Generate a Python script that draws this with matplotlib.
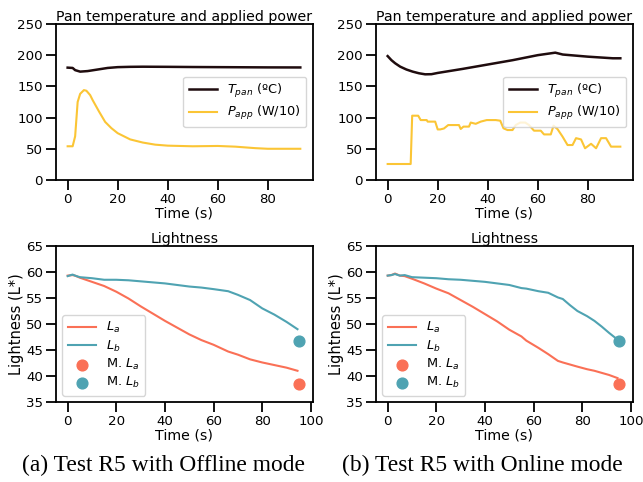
import numpy as np
import matplotlib.pyplot as plt

# Offline mode - pan temperature and applied power
t_pan_off = [0, 2, 3, 5, 8, 12, 16, 20, 25, 30, 40, 50, 60, 70, 80, 93]
T_pan_off = [180, 179.5, 176, 173.6, 174.5, 177, 179.5, 180.8, 181.3, 181.5, 181.3, 181, 180.8, 180.6, 180.4, 180.3]
t_pow_off = [0, 2, 3, 4, 5, 6.5, 7.5, 9, 10, 12.5, 15, 17.5, 20, 25, 30, 35, 40, 50, 60, 67, 75, 80, 93]
P_app_off = [54, 54, 70, 125, 138, 144, 143, 136, 128, 110, 93, 83, 75, 65, 60, 56.6, 55, 54, 54.5, 53.4, 51, 50, 50]

# Online mode - pan temperature and applied power
t_pan_on = [0, 1.5, 3, 5, 7.5, 10, 12.5, 15, 17.5, 20, 30, 40, 50, 60, 67, 70, 80, 90, 93]
T_pan_on = [198.5, 192, 187, 181.6, 177, 173.6, 171, 169.3, 169.5, 171.5, 178, 185, 192, 200, 204, 201, 197.6, 195, 195]
t_pow_on = [0, 9.2, 9.8, 12.2, 13.2, 15.6, 16, 19, 20, 21, 22.5, 24.2, 28.5, 29.2, 30.3, 32.5, 33.2, 35.2,
            37.2, 39.6, 43.2, 45, 46.3, 47.9, 49.9, 51.2, 53, 55, 56.5, 58.5, 61.2, 62.5, 65.2, 66.3, 67.9,
            69.9, 71.9, 73.9, 75.3, 77.3, 78.9, 81.3, 83.3, 85.3, 87.3, 89.3, 93]
P_app_on = [25.6, 25.6, 103, 103, 96, 96, 93.5, 93.5, 81, 81, 82.5, 88, 88, 81.7, 85.5, 85.5, 92, 90,
            93.5, 96, 96, 95, 82.8, 80, 80, 88, 92, 92, 88, 79, 79, 73, 73, 87, 81.5,
            69.5, 56, 56, 67, 65, 50.8, 58, 50.8, 67, 67, 53.4, 53.4]

# Offline mode - lightness
t_L_off = [0, 2, 3, 5, 10, 15, 20, 25, 30, 35, 40, 45, 50, 55, 60, 66, 70, 75, 80, 85, 90, 94.5]
La_off = [59.3, 59.4, 59.3, 58.9, 58.1, 57.3, 56.2, 54.9, 53.4, 52.0, 50.6, 49.3, 48.0, 46.9, 46.0, 44.7, 44.1, 43.2, 42.6, 42.1, 41.6, 41.0]
Lb_off = [59.2, 59.5, 59.3, 59.0, 58.8, 58.5, 58.5, 58.4, 58.2, 58.0, 57.8, 57.5, 57.2, 57.0, 56.7, 56.3, 55.6, 54.6, 53.0, 51.8, 50.4, 49.0]

# Online mode - lightness
t_L_on = [0, 1.5, 3, 5, 7, 10, 15, 20, 25, 30, 35, 40, 45, 50, 55, 57, 62, 66, 70, 72, 75, 78, 82, 85, 88, 91, 94.5]
La_on = [59.3, 59.4, 59.7, 59.3, 59.2, 58.7, 57.8, 56.8, 55.9, 54.6, 53.3, 51.9, 50.5, 48.9, 47.6, 46.8, 45.4, 44.2, 42.9, 42.6, 42.2, 41.8, 41.3, 41.0, 40.6, 40.2, 39.6]
Lb_on = [59.3, 59.4, 59.6, 59.3, 59.4, 59.0, 58.9, 58.8, 58.6, 58.5, 58.3, 58.1, 57.8, 57.5, 56.9, 56.8, 56.3, 56.0, 55.1, 54.8, 53.6, 52.5, 51.5, 50.6, 49.5, 48.3, 47.0]

meas_t = 95
meas_La = [38.4, 38.4]
meas_Lb = [46.8, 46.8]

captions = ['(a) Test R5 with Offline mode', '(b) Test R5 with Online mode']

c_pan = '#1f0c0e'
c_pow = '#fbc535'
c_La = '#fa7056'
c_Lb = '#4fa3b2'

fs = 10.2
plt.rcParams['font.family'] = 'DejaVu Sans'
plt.rcParams['font.size'] = fs
plt.rcParams['axes.linewidth'] = 1.3
for ax_name in ['xtick', 'ytick']:
    plt.rcParams[ax_name + '.major.size'] = 7
    plt.rcParams[ax_name + '.major.width'] = 1.3
    plt.rcParams[ax_name + '.labelsize'] = 9.6
    plt.rcParams[ax_name + '.major.pad'] = 2.5

fig = plt.figure(figsize=(6.43, 4.82), dpi=100)
lefts = [0.0871, 0.5848]
cap_x = [0.2535, 0.7496]
w = 0.399
h = 0.3237

top_data = [(t_pan_off, T_pan_off, t_pow_off, P_app_off), (t_pan_on, T_pan_on, t_pow_on, P_app_on)]
bot_data = [(t_L_off, La_off, Lb_off), (t_L_on, La_on, Lb_on)]

for i in range(2):
    ax = fig.add_axes([lefts[i], 0.6266, w, h])
    tp, Tp, tw, Pw = top_data[i]
    ax.plot(tp, Tp, color=c_pan, lw=1.8, label='$T_{pan}$ (ºC)')
    ax.plot(tw, Pw, color=c_pow, lw=1.5, label='$P_{app}$ (W/10)')
    ax.set_xlim(-4.65, 97.9)
    ax.set_ylim(0, 250)
    ax.set_xticks([0, 20, 40, 60, 80])
    ax.set_title('Pan temperature and applied power', fontsize=fs, pad=2)
    ax.set_xlabel('Time (s)', fontsize=fs, labelpad=0)
    ax.legend(loc='center right', fontsize=9.3, handlelength=2.2, labelspacing=0.35)

    ax2 = fig.add_axes([lefts[i], 0.166, w, h])
    tl, La, Lb = bot_data[i]
    ax2.plot(tl, La, color=c_La, lw=1.5, label='$L_a$')
    ax2.plot(tl, Lb, color=c_Lb, lw=1.5, label='$L_b$')
    ax2.scatter([meas_t], [meas_La[i]], s=60, color=c_La, label='M. $L_a$', zorder=3)
    ax2.scatter([meas_t], [meas_Lb[i]], s=60, color=c_Lb, label='M. $L_b$', zorder=3)
    ax2.set_xlim(-4.8, 100.7)
    ax2.set_ylim(35, 65)
    ax2.set_yticks([35, 40, 45, 50, 55, 60, 65])
    ax2.set_title('Lightness', fontsize=fs, pad=2)
    ax2.set_xlabel('Time (s)', fontsize=fs, labelpad=0)
    ax2.set_ylabel('Lightness (L*)', fontsize=10.5, labelpad=1)
    ax2.legend(loc='lower left', fontsize=9.3, handlelength=2.2, labelspacing=0.25)

    fig.text(cap_x[i], 0.035, captions[i], family='Liberation Serif', fontsize=16.9,
             ha='center', va='center')

fig.savefig('out.png', dpi=100)
